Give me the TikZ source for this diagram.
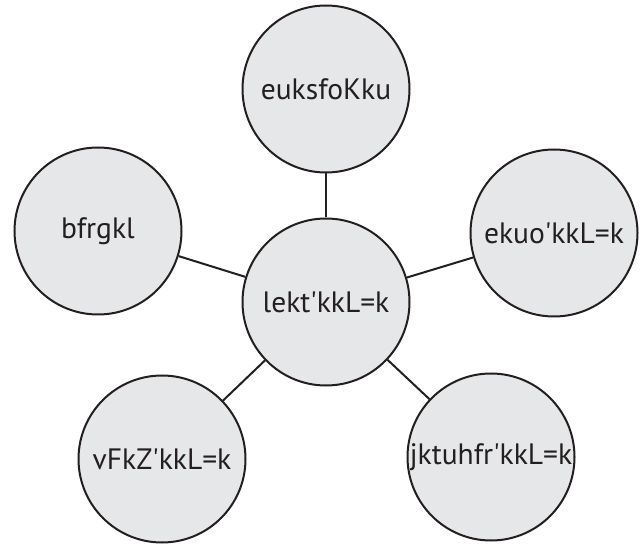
\documentclass[tikz,border=0pt]{standalone}
\usepackage{fontspec}
\setmainfont{PT Sans}
\definecolor{fillgray}{HTML}{E6E7E8}
\definecolor{ink}{HTML}{231F20}
\tikzset{
  bubble/.style={circle, draw=ink, fill=fillgray, line width=2pt, minimum size=167pt, inner sep=0pt, text=ink, font=\fontsize{29.5}{31}\selectfont},
  link/.style={draw=ink, line width=2pt}
}
\newcommand{\zw}[1]{\makebox[0pt]{#1}}
\newcommand{\q}{\textquotesingle}
\begin{document}
\begin{tikzpicture}[x=1pt,y=-1pt]
\useasboundingbox (0,0) rectangle (640,545);
\node[bubble] (c) at (326,302) {\zw{lekt\q kkL=k}};
\node[bubble] (t) at (326,89) {\zw{euksfoKku}};
\node[bubble] (l) at (98,231) {\zw{bfrgkl}};
\node[bubble] (r) at (554,233) {\zw{ekuo\q kkL=k}};
\node[bubble] (bl) at (162,459) {\zw{vFkZ\q kkL=k}};
\node[bubble] (br) at (491,457) {\zw{jktuhfr\q kkL=k}};
\draw[link] (c) -- (t);
\draw[link] (c) -- (l);
\draw[link] (c) -- (r);
\draw[link] (c) -- (bl);
\draw[link] (c) -- (br);
\end{tikzpicture}
\end{document}
